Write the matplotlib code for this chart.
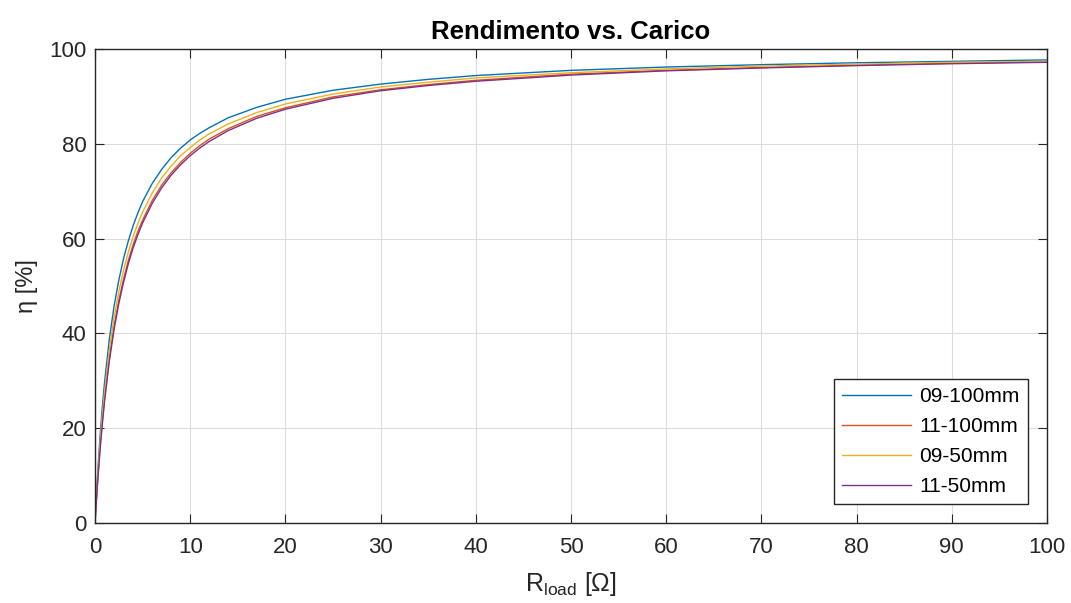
import matplotlib
matplotlib.use("Agg")
import matplotlib.pyplot as plt

plt.rcParams['font.family'] = ['Liberation Sans', 'DejaVu Sans']
plt.rcParams['mathtext.default'] = 'regular'

# load resistance [Ohm] sample points
r_load = [0, 0.1, 0.25, 0.5, 0.75, 1, 1.5, 2, 2.5, 3, 3.5, 4, 4.5, 5, 6, 7,
          8, 9, 10, 11, 12, 14, 17, 20, 25, 30, 35, 40, 50, 60, 70, 80, 90,
          100]

eta_09_100 = [0, 4.0, 9.5, 17.4, 24.0, 29.6, 38.7, 45.7, 51.2, 55.8, 59.5,
              62.7, 65.4, 67.8, 71.6, 74.6, 77.1, 79.1, 80.8, 82.2, 83.4,
              85.5, 87.7, 89.4, 91.3, 92.6, 93.6, 94.4, 95.5, 96.2, 96.7,
              97.1, 97.4, 97.7]
eta_11_100 = [0, 3.4, 8.1, 15.1, 21.0, 26.2, 34.7, 41.5, 47.0, 51.5, 55.4,
              58.7, 61.5, 63.9, 68.0, 71.3, 73.9, 76.1, 78.0, 79.6, 81.0,
              83.2, 85.8, 87.6, 89.9, 91.4, 92.5, 93.4, 94.7, 95.5, 96.1,
              96.6, 97.0, 97.3]
eta_09_50 = [0, 3.7, 8.7, 16.0, 22.3, 27.6, 36.4, 43.3, 48.8, 53.4, 57.2,
             60.4, 63.2, 65.6, 69.6, 72.8, 75.3, 77.5, 79.2, 80.8, 82.1,
             84.2, 86.6, 88.4, 90.5, 92.0, 93.0, 93.9, 95.0, 95.8, 96.4,
             96.8, 97.2, 97.4]
eta_11_50 = [0, 3.3, 7.9, 14.7, 20.5, 25.6, 34.1, 40.8, 46.3, 50.8, 54.7,
             58.0, 60.8, 63.3, 67.4, 70.7, 73.4, 75.6, 77.5, 79.1, 80.5,
             82.8, 85.4, 87.3, 89.6, 91.2, 92.3, 93.2, 94.5, 95.4, 96.0,
             96.5, 96.9, 97.2]

series = [
    ("09-100mm", eta_09_100, "#0072BD"),
    ("11-100mm", eta_11_100, "#D95319"),
    ("09-50mm", eta_09_50, "#EDB120"),
    ("11-50mm", eta_11_50, "#7E2F8E"),
]

fig = plt.figure(figsize=(10.71, 6.03), dpi=100)
ax = fig.add_axes([0.0887, 0.1327, 0.8889, 0.786])

for name, vals, col in series:
    ax.plot(r_load, vals, color=col, linewidth=1.0, label=name)

ax.set_xlim(0, 100)
ax.set_ylim(0, 100)
ax.set_xticks(range(0, 101, 10))
ax.set_yticks(range(0, 101, 20))
ax.grid(True, color="#dcdcdc", linewidth=0.8)
ax.set_axisbelow(True)
ax.tick_params(direction="in", length=6.5, labelsize=16, colors="#262626",
               top=True, right=True)
ax.tick_params(axis="x", pad=10)
ax.tick_params(axis="y", pad=6)
for sp in ax.spines.values():
    sp.set_color("#262626")
    sp.set_linewidth(1.0)

ax.set_title("Rendimento vs. Carico", fontsize=18.5, fontweight="bold", pad=7)
ax.set_xlabel("R$_{load}$ [Ω]", fontsize=18, color="#262626", labelpad=9)
ax.set_ylabel("η [%]", fontsize=17, color="#262626", labelpad=8)

leg = ax.legend(loc="lower right", fontsize=15, fancybox=False,
                framealpha=1, edgecolor="#262626", handlelength=3.3,
                handletextpad=0.4, borderaxespad=0.9, labelspacing=0.52)
leg.get_frame().set_linewidth(1.0)

fig.savefig("out.png", dpi=100)
